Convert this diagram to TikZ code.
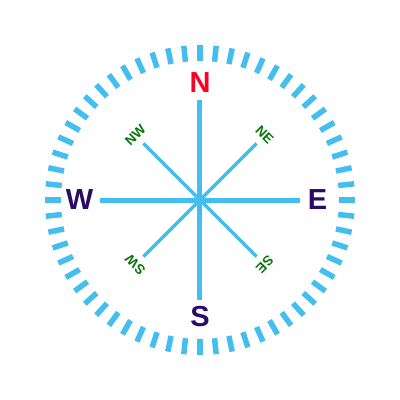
\documentclass[tikz,border=0pt]{standalone}
\usepackage{fontspec}
\setmainfont{Liberation Sans}
\definecolor{ringblue}{HTML}{44BEEF}
\definecolor{nred}{HTML}{FF0022}
\definecolor{dpurple}{HTML}{2A0B66}
\definecolor{dgreen}{HTML}{087508}
\begin{document}
\begin{tikzpicture}[x=1pt,y=1pt,
  mainlbl/.style={font=\fontsize{29}{29}\selectfont\bfseries, inner sep=0pt},
  sublbl/.style={font=\fontsize{13.6}{13.6}\selectfont\bfseries, text=dgreen, inner sep=0pt},
  mainray/.style={draw=ringblue, line width=5pt},
  diagray/.style={draw=ringblue, line width=3.5pt},
  tick/.style={draw=ringblue, line width=5.5pt}]
\useasboundingbox (-200,-200) rectangle (200,200);
\coordinate (c) at (0,0);
% dashed ring
\foreach \a in {0,6,...,354} {
  \draw[tick] (\a:139) -- (\a:155);
}
% main rays
\coordinate (nE) at (0,100);
\coordinate (sE) at (0,-100);
\coordinate (wE) at (-100,0);
\coordinate (eE) at (100,0);
\draw[mainray] (c) -- (nE);
\draw[mainray] (c) -- (sE);
\draw[mainray] (c) -- (wE);
\draw[mainray] (c) -- (eE);
% diagonal rays
\coordinate (nwE) at (135:80);
\coordinate (neE) at (45:80);
\coordinate (swE) at (225:80);
\coordinate (seE) at (315:80);
\draw[diagray] (c) -- (nwE);
\draw[diagray] (c) -- (neE);
\draw[diagray] (c) -- (swE);
\draw[diagray] (c) -- (seE);
% labels
\node[mainlbl, text=nred] (N) at (0,117.5) {N};
\node[mainlbl, text=dpurple] (S) at (0,-117) {S};
\node[mainlbl, text=dpurple] (W) at (-120.5,0.5) {W};
\node[mainlbl, text=dpurple] (E) at (117.5,0) {E};
\node[sublbl, rotate=45] (NW) at (135:91.5) {NW};
\node[sublbl, rotate=-45] (NE) at (45:91.5) {NE};
\node[sublbl, rotate=135] (SW) at (225:91.5) {SW};
\node[sublbl, rotate=-135] (SE) at (315:91.5) {SE};
\end{tikzpicture}
\end{document}
